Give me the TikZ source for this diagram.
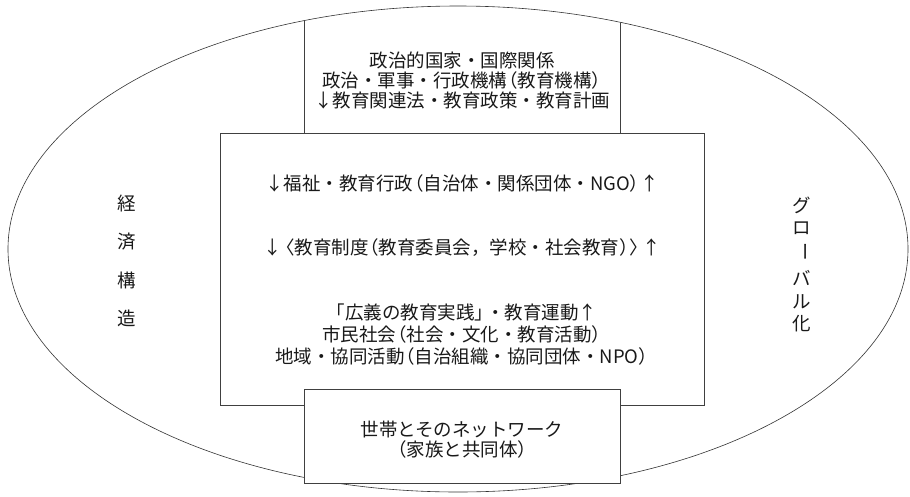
\documentclass[tikz,border=0pt]{standalone}
\usepackage{fontspec}
\setmainfont{Noto Sans CJK JP}
\usetikzlibrary{shapes.geometric}
\newcommand{\lpar}{\kern-.45em（}
\newcommand{\rpar}{）\kern-.45em}
\newcommand{\lang}{\kern-.3em〈}
\newcommand{\rang}{〉\kern-.3em}
\begin{document}
\begin{tikzpicture}[x=1pt,y=-1pt,
  box/.style={draw=black!75, line width=0.8pt, rectangle, inner sep=0pt},
  oval/.style={draw=black!80, line width=0.6pt, ellipse, inner sep=0pt},
  lbl/.style={font=\fontsize{18.5}{20}\selectfont, text=black!90, align=center, inner sep=0pt},
  vlbl/.style={font=\fontsize{18.5}{20}\selectfont, text=black!90, inner sep=0pt}]
\useasboundingbox (0,0) rectangle (910,496);
\node[oval, minimum width=900pt, minimum height=486pt] (outer) at (458,249) {};
\begin{scope}
  \clip (458,249) ellipse [x radius=450pt, y radius=243pt];
  \node[box, minimum width=316pt, minimum height=153pt] (topbox) at (462,56.5) {};
\end{scope}
\node[box, minimum width=484pt, minimum height=272pt] (mid) at (462,269) {};
\node[box, fill=white, minimum width=316pt, minimum height=94pt] (bot) at (462,436) {};
% top box text
\node[lbl] (ttext) at (462,80) {政治的国家・国際関係\\政治・軍事・行政機構\lpar 教育機構\rpar\\↓教育関連法・教育政策・教育計画};
% middle box text
\node[lbl] (m1) at (462,183) {↓福祉・教育行政\lpar 自治体・関係団体・NGO\rpar ↑};
\node[lbl] (m2) at (462,248) {↓\lang 教育制度\lpar 教育委員会，学校・社会教育\rpar\rang ↑};
\node[lbl, font=\fontsize{18.5}{22}\selectfont] (m3) at (462,335) {「広義の教育実践」\kern-.4em・教育運動↑\\市民社会\lpar 社会・文化・教育活動\rpar\\地域・協同活動\lpar 自治組織・協同団体・NPO\rpar};
% bottom box text
\node[lbl] (btext) at (462,440) {世帯とそのネットワーク\\\lpar 家族と共同体\rpar};
% left vertical
\node[vlbl] (k1) at (127,203) {経};
\node[vlbl] (k2) at (127,242) {済};
\node[vlbl] (k3) at (127,280) {構};
\node[vlbl] (k4) at (127,318) {造};
% right vertical
\node[vlbl] (g1) at (802,205) {グ};
\node[vlbl] (g2) at (802,228) {ロ};
\node[vlbl, rotate=-90] (g3) at (802,252) {ー};
\node[vlbl] (g4) at (802,278) {バ};
\node[vlbl] (g5) at (802,302) {ル};
\node[vlbl] (g6) at (802,324) {化};
\end{tikzpicture}
\end{document}
